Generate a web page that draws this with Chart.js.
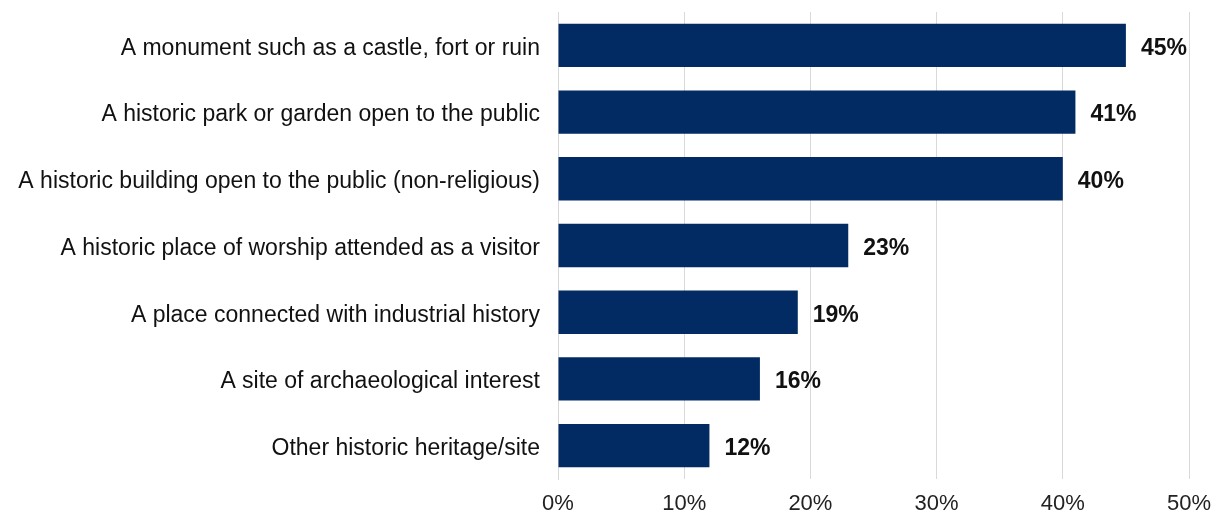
<!DOCTYPE html>
<html lang="en">
<head>
    <meta charset="UTF-8">
    <title>Heritage sites visited</title>
    <script src="https://cdn.jsdelivr.net/npm/chart.js"></script>
    <style>
        html, body {
            margin: 0;
            padding: 0;
            background: #ffffff;
        }

        #chart-container {
            width: 1221px;
            height: 518px;
        }
    </style>
</head>
<body>
    <div id="chart-container">
        <canvas id="heritageChart"></canvas>
    </div>

    <script>
        // Site types, top to bottom
        const categories = [
            'A monument such as a castle, fort or ruin',
            'A historic park or garden open to the public',
            'A historic building open to the public (non-religious)',
            'A historic place of worship attended as a visitor',
            'A place connected with industrial history',
            'A site of archaeological interest',
            'Other historic heritage/site'
        ];
        // Share of visitors (%)
        const percentages = [45, 41, 40, 23, 19, 16, 12];
        // x axis ticks (%)
        const tickValues = [0, 10, 20, 30, 40, 50];

        const FONT = "'Liberation Sans', Arial, sans-serif";

        // draws the bold "45%" style label just past the end of each bar
        const valueLabels = {
            id: 'valueLabels',
            afterDatasetsDraw(chart) {
                const ctx = chart.ctx;
                const meta = chart.getDatasetMeta(0);
                ctx.save();
                ctx.font = 'bold 23px ' + FONT;
                ctx.fillStyle = '#111111';
                ctx.textAlign = 'left';
                ctx.textBaseline = 'middle';
                meta.data.forEach((bar, i) => {
                    ctx.fillText(percentages[i] + '%', bar.x + 15, bar.y + 3);
                });
                ctx.restore();
            }
        };

        const config = {
            type: 'bar',
            data: {
                labels: categories,
                datasets: [{
                    data: percentages,
                    backgroundColor: '#022b64',
                    borderWidth: 0,
                    categoryPercentage: 1,
                    barPercentage: 0.65
                }]
            },
            options: {
                indexAxis: 'y',
                responsive: true,
                maintainAspectRatio: false,
                animation: false,
                layout: {
                    padding: { top: 12, right: 32, left: 0, bottom: 0 }
                },
                plugins: {
                    legend: { display: false },
                    tooltip: { enabled: false }
                },
                scales: {
                    x: {
                        min: 0,
                        max: 50,
                        afterBuildTicks: scale => {
                            scale.ticks = tickValues.map(v => ({ value: v }));
                        },
                        afterFit: scale => {
                            scale.height = 39;
                            scale.paddingLeft = 0;
                            scale.paddingRight = 0;
                        },
                        grid: {
                            color: '#d9d9d9',
                            lineWidth: 1,
                            drawTicks: false
                        },
                        border: { display: false },
                        ticks: {
                            padding: 12,
                            color: '#222222',
                            font: { family: FONT, size: 22 },
                            callback: value => value + '%'
                        }
                    },
                    y: {
                        afterFit: scale => {
                            scale.width = 558;
                            scale.paddingTop = 0;
                            scale.paddingBottom = 0;
                        },
                        grid: { display: false, drawTicks: false },
                        border: { display: true, color: '#d9d9d9' },
                        ticks: {
                            padding: 18,
                            labelOffset: 3,
                            color: '#111111',
                            font: { family: FONT, size: 23 }
                        }
                    }
                }
            },
            plugins: [valueLabels]
        };

        new Chart(document.getElementById('heritageChart'), config);
    </script>
</body>
</html>
